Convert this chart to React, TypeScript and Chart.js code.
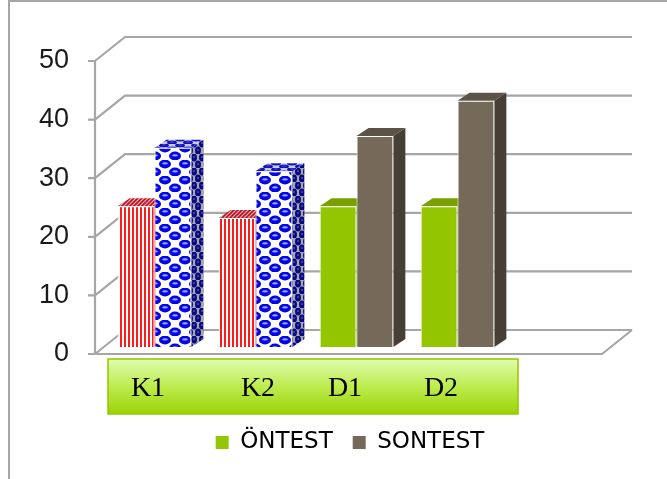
import React, { useEffect, useRef } from "react";
import { Chart, registerables } from "chart.js";

Chart.register(...registerables);

const categories = ["K1", "K2", "D1", "D2"];
const pretest = [24, 22, 24, 24];
const posttest = [34, 30, 36, 42];
const yTicks = [0, 10, 20, 30, 40, 50];
const categoryLabelX = [148, 258, 345, 441];

const GREEN = "#94c600";
const BROWN = "#756a5a";

function tile(w: number, h: number, draw: (c: CanvasRenderingContext2D) => void) {
  const cv = document.createElement("canvas");
  cv.width = w;
  cv.height = h;
  const c = cv.getContext("2d")!;
  draw(c);
  return c.createPattern(cv, "repeat")!;
}

function stripes() {
  return tile(4, 4, (c) => {
    c.fillStyle = "#fff";
    c.fillRect(0, 0, 4, 4);
    c.fillStyle = "#ff1a1a";
    c.fillRect(0, 0, 2, 4);
  });
}

function hatch() {
  return tile(4, 4, (c) => {
    c.fillStyle = "#eeb0b0";
    c.fillRect(0, 0, 4, 4);
    c.strokeStyle = "#b80f22";
    c.lineWidth = 1.6;
    c.beginPath();
    c.moveTo(-1, 5);
    c.lineTo(5, -1);
    c.moveTo(-1, 1);
    c.lineTo(1, -1);
    c.moveTo(3, 5);
    c.lineTo(5, 3);
    c.stroke();
  });
}

function bubbles(blue: string, light: string, bg: string, w = 20, h = 16) {
  return tile(w, h, (c) => {
    c.fillStyle = bg;
    c.fillRect(0, 0, w, h);
    for (const [x, y] of [[0, 0], [w / 2, h / 2]]) {
      for (const dx of [-w, 0, w]) {
        c.fillStyle = blue;
        c.beginPath();
        c.ellipse(x + dx + w / 4, y + h / 4, w / 4 + 1, h / 4 + 0.4, 0, 0, Math.PI * 2);
        c.fill();
        c.fillStyle = light;
        c.beginPath();
        c.ellipse(x + dx + w / 4, y + h / 4 - 0.6, w / 7, h / 14, 0, 0, Math.PI * 2);
        c.fill();
      }
    }
  });
}

export default function App() {
  const ref = useRef<HTMLCanvasElement>(null);
  useEffect(() => {
    document.body.style.margin = "0";
    const ctx = ref.current!.getContext("2d")!;
    const frontBlue = () => bubbles("#0505e6", "#9aa6f7", "#ffffff");
    const topBlue = () => bubbles("#1212b8", "#6f80e0", "#c4c8ee", 16, 6);
    const sideBlue = () => bubbles("#0a0a80", "#4a4aa0", "#a4a6b0", 8, 14);
    const preFront = [stripes(), stripes(), GREEN, GREEN];
    const postFront = [frontBlue(), frontBlue(), BROWN, BROWN];
    const preTop = [hatch(), hatch(), "#78a000", "#78a000"];
    const postTop = [topBlue(), topBlue(), "#5c5346", "#5c5346"];
    const postSide = [sideBlue(), sideBlue(), "#453f35", "#453f35"];

    const grid = "#a6a6a6";
    const wallDx = 30;
    const wallDy = -24;
    const barDx = 12;
    const barDy = -8;

    const scene = {
      id: "scene",
      beforeDatasetsDraw(chart: any) {
        const c = chart.ctx as CanvasRenderingContext2D;
        const y = chart.scales.y;
        const left = 95;
        const floorRight = 602;
        c.save();
        // frame
        c.strokeStyle = "#a6a6a6";
        c.lineWidth = 2;
        c.beginPath();
        c.moveTo(9, 479);
        c.lineTo(9, 1);
        c.lineTo(667, 1);
        c.stroke();
        // walls
        c.lineWidth = 2.2;
        c.strokeStyle = grid;
        c.beginPath();
        c.moveTo(left, y.getPixelForValue(yTicks[yTicks.length - 1]));
        c.lineTo(left, y.getPixelForValue(0));
        for (const t of yTicks) {
          const p = y.getPixelForValue(t);
          c.moveTo(left - 7, p);
          c.lineTo(left, p);
          c.lineTo(left + wallDx, p + wallDy);
          c.lineTo(floorRight + wallDx, p + wallDy);
        }
        const p0 = y.getPixelForValue(0);
        c.moveTo(left, p0);
        c.lineTo(floorRight, p0);
        c.lineTo(floorRight + wallDx, p0 + wallDy);
        c.stroke();
        // label band
        const g = c.createLinearGradient(0, 359, 0, 414);
        g.addColorStop(0, "#e0fbb0");
        g.addColorStop(0.5, "#bdec4e");
        g.addColorStop(1, "#9cd207");
        c.fillStyle = g;
        c.fillRect(108, 359, 410, 55);
        c.strokeStyle = "#94c600";
        c.lineWidth = 1.5;
        c.strokeRect(108, 359, 410, 55);
        c.fillStyle = "#000";
        c.font = '28px "Liberation Serif"';
        c.textAlign = "center";
        c.textBaseline = "middle";
        categories.forEach((lab, i) => c.fillText(lab, categoryLabelX[i], 389));
        // bar depth
        [0, 1].forEach((ds) => {
          chart.getDatasetMeta(ds).data.forEach((b: any, i: number) => {
            const hw = b.width / 2;
            const xr = b.x + hw;
            const xl = b.x - hw;
            c.fillStyle = (ds === 0 ? preFront : postSide)[i] as any;
            if (ds === 0 && i < 2) c.fillStyle = "#b00d1e";
            if (ds === 0 && i >= 2) c.fillStyle = "#5f8000";
            c.beginPath();
            c.moveTo(xr, b.y);
            c.lineTo(xr + barDx, b.y + barDy);
            c.lineTo(xr + barDx, b.base + barDy);
            c.lineTo(xr, b.base);
            c.closePath();
            c.fill();
            c.fillStyle = (ds === 0 ? preTop : postTop)[i] as any;
            c.beginPath();
            c.moveTo(xl, b.y);
            c.lineTo(xl + barDx, b.y + barDy);
            c.lineTo(xr + barDx, b.y + barDy);
            c.lineTo(xr, b.y);
            c.closePath();
            c.fill();
          });
        });
        c.restore();
      },
    };

    const chart = new Chart(ctx, {
      type: "bar",
      plugins: [scene],
      data: {
        labels: categories,
        datasets: [
          { label: "ÖNTEST", data: pretest, yAxisID: "bars", backgroundColor: preFront as any, borderColor: "#ffffff", borderWidth: 1 },
          { label: "SONTEST", data: posttest, yAxisID: "bars", backgroundColor: postFront as any, borderColor: "#ffffff", borderWidth: 1 },
        ],
      },
      options: {
        animation: false,
        responsive: false,
        devicePixelRatio: 1,
        layout: { padding: { left: 33, right: 0, top: 61, bottom: 15 } },
        datasets: { bar: { categoryPercentage: 0.73, barPercentage: 1 } },
        scales: {
          x: {
            grid: { display: false },
            border: { display: false },
            ticks: { display: false },
            afterFit(s: any) { s.height = 57; },
          },
          y: {
            min: 0,
            max: 50,
            grid: { display: false, drawTicks: false },
            border: { display: false },
            ticks: {
              stepSize: 10,
              padding: 35,
              color: "#1a1a1a",
              font: { family: '"Liberation Sans"', size: 27 },
            },
            afterFit(s: any) { s.width = 71; },
          },
          bars: {
            position: "right",
            min: -1.2,
            max: 48.8,
            grid: { display: false, drawTicks: false },
            border: { display: false },
            ticks: { display: false },
            afterFit(s: any) { s.width = 159; },
          },
        },
        plugins: {
          tooltip: { enabled: false },
          legend: {
            position: "bottom",
            labels: {
              boxWidth: 13,
              boxHeight: 13,
              padding: 20,
              color: "#1a1a1a",
              font: { family: '"DejaVu Sans"', size: 23 },
              generateLabels: () => [
                { text: "ÖNTEST", fillStyle: GREEN, strokeStyle: GREEN, lineWidth: 0, datasetIndex: 0 },
                { text: "SONTEST", fillStyle: BROWN, strokeStyle: BROWN, lineWidth: 0, datasetIndex: 1 },
              ],
            },
          },
        },
      } as any,
    });
    return () => chart.destroy();
  }, []);
  return <canvas ref={ref} width={667} height={479} style={{ display: "block" }} />;
}
